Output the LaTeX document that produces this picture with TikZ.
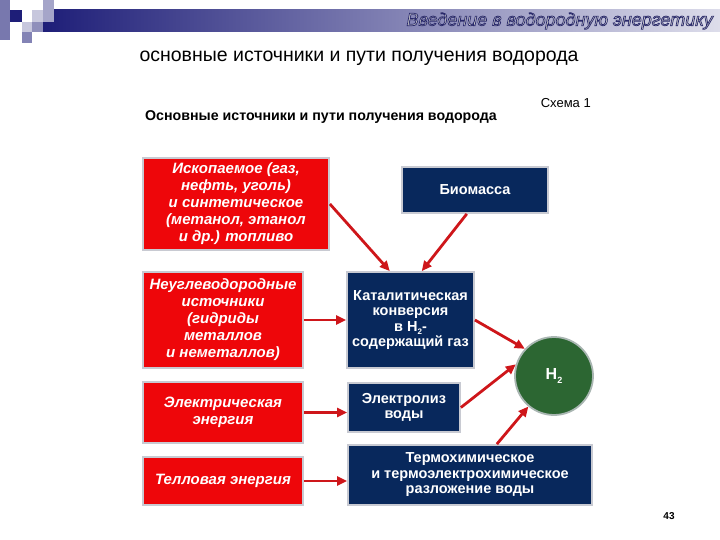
\documentclass[tikz,border=0pt]{standalone}
\usepackage{fontspec}
\setmainfont{Liberation Sans}
\usetikzlibrary{arrows.meta}

\definecolor{srcred}{RGB}{238,6,10}
\definecolor{wayblue}{RGB}{8,40,92}
\definecolor{hgreen}{RGB}{44,102,50}
\definecolor{arrred}{RGB}{206,22,26}
\definecolor{edgegray}{RGB}{200,202,210}
\definecolor{barnavy}{RGB}{30,30,120}

\newcommand*{\sub}[1]{\raisebox{-0.4ex}{\footnotesize #1}}
% outlined text: fill with the current colour, stroke in navy
\newcommand*{\outlined}[1]{\special{pdf:code q 0.16 0.16 0.42 RG 0.7 w 2 Tr}#1\special{pdf:code Q}}

\begin{document}
\begin{tikzpicture}
[
	x=1pt,y=-1pt,
	srcbox/.style={rectangle,draw=edgegray,line width=1.8pt,fill=srcred,text=white,
		font=\bfseries\itshape\fontsize{15}{17}\selectfont,align=center,inner sep=0pt},
	waybox/.style={rectangle,draw=edgegray,line width=1.8pt,fill=wayblue,text=white,
		font=\bfseries\fontsize{14.5}{15.5}\selectfont,align=center,inner sep=0pt},
	hcircle/.style={circle,draw=edgegray!80!hgreen,line width=1.8pt,fill=hgreen,text=white,
		font=\bfseries\fontsize{16}{18}\selectfont,inner sep=0pt,minimum size=78pt},
	feed/.style={draw=arrred,line width=2.8pt,-{Triangle[length=10pt,width=9pt]}}
]
	\useasboundingbox (0,0) rectangle (720,540);

	% header bar
	\shade[left color=barnavy,right color=white!85!barnavy] (43,10) rectangle (720,32);
	\fill[barnavy!60!white] (0,0) rectangle (10,40);
	\fill[barnavy] (10,10) rectangle (22,22);
	\fill[barnavy!25!white] (32,10) rectangle (43,22);
	\fill[barnavy!40!white] (43,0) rectangle (54,22);
	\fill[barnavy!25!white] (22,22) rectangle (32,32);
	\fill[barnavy!50!white] (32,22) rectangle (43,32);
	\fill[barnavy!55!white] (22,32) rectangle (32,43);
	\node (header) [anchor=east,text=gray!40!white,font=\itshape\fontsize{18}{20}\selectfont,inner sep=0pt]
		at (713,21) {\outlined{Введение в водородную энергетику}};

	% titles
	\node (subtitle) [font=\fontsize{19.5}{22}\selectfont] at (359,58) {основные источники и пути получения водорода};
	\node (title) [anchor=west,font=\bfseries\fontsize{14.2}{16}\selectfont,inner sep=0pt] at (145,117)
		{Основные источники и пути получения водорода};
	\node (scheme) [anchor=east,font=\fontsize{13}{15}\selectfont,inner sep=0pt] at (591,103) {Схема 1};

	% sources
	\node (fossil) [srcbox,minimum width=186pt,minimum height=92pt] at (236,204)
		{Ископаемое (газ,\\нефть, уголь)\\и синтетическое\\(метанол, этанол\\и др.) топливо};
	\node (nonhc) [srcbox,minimum width=160pt,minimum height=96pt] at (223,320)
		{Неуглеводородные\\источники\\(гидриды\\металлов\\и неметаллов)};
	\node (elpower) [srcbox,minimum width=160pt,minimum height=61pt] at (223,412.5)
		{Электрическая\\энергия};
	\node (heat) [srcbox,minimum width=160pt,minimum height=48pt] at (223,481)
		{Телловая энергия};

	% ways
	\node (biomass) [waybox,minimum width=146pt,minimum height=46pt] at (475,190) {Биомасса};
	\node (catconv) [waybox,minimum width=127pt,minimum height=96pt] at (410.5,320)
		{Каталитическая\\конверсия\\в H\sub{2}-\\содержащий газ};
	\node (electro) [waybox,minimum width=112pt,minimum height=49pt] at (404,407.5)
		{Электролиз\\воды};
	\node (thermo) [waybox,minimum width=244pt,minimum height=60pt] at (470,475)
		{Термохимическое\\и термоэлектрохимическое\\разложение воды};

	\node (htwo) [hcircle] at (554,376) {H\raisebox{-0.4ex}{\small 2}};

	% arrows
	\draw[feed] (fossil.east) -- (catconv.113);
	\draw[feed] (biomass.251) -- (catconv.77);
	\draw[feed] (nonhc.east) -- (catconv.west);
	\draw[feed] (elpower.east) -- (elpower.east -| electro.west);
	\draw[feed] (heat.east) -- (heat.east -| thermo.west);
	\draw[feed] (catconv.east) -- (htwo.137);
	\draw[feed] (electro.east) -- (htwo.163);
	\draw[feed] (thermo.49) -- (htwo.230);

	\node (page) [font=\bfseries\fontsize{10}{12}\selectfont] at (669,516) {43};
\end{tikzpicture}
\end{document}
